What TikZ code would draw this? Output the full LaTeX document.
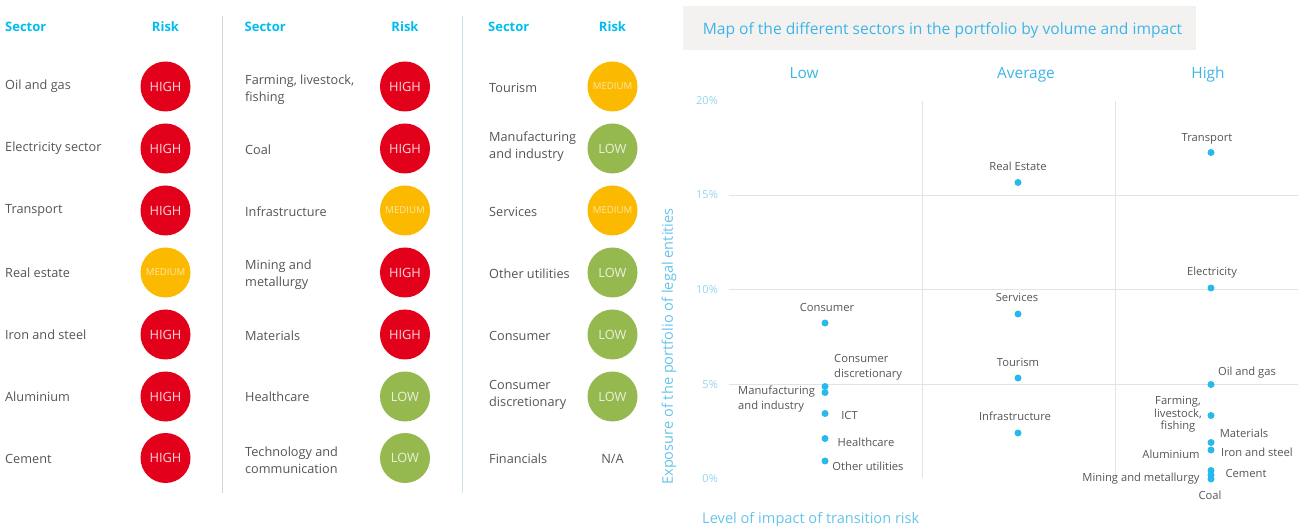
\documentclass[tikz,border=0pt]{standalone}
\usepackage{fontspec}
\setmainfont{Open Sans}
\definecolor{hdr}{HTML}{00BDEE}
\definecolor{ttl}{HTML}{3DB5E6}
\definecolor{axc}{HTML}{66C4EA}
\definecolor{tick}{HTML}{93D5EF}
\definecolor{txt}{HTML}{555555}
\definecolor{rhigh}{HTML}{E2001A}
\definecolor{rmed}{HTML}{FBB900}
\definecolor{rlow}{HTML}{95B84F}
\definecolor{gridc}{HTML}{E3E3E3}
\definecolor{dotc}{HTML}{27B8EC}
\definecolor{boxc}{HTML}{F3F2F1}
\definecolor{sepa}{HTML}{D0D6D8}
\definecolor{sepb}{HTML}{CFE3EA}
\newcommand\dn[1]{\raisebox{-1pt}{#1}}
\tikzset{
  x=1pt,y=-1pt,
  head/.style={font=\fontsize{13}{14}\selectfont\bfseries,text=hdr,inner sep=0pt,yshift=-0.8pt},
  sector/.style={anchor=west,align=left,font=\fontsize{12.7}{17}\selectfont,text=txt,inner sep=0pt,yshift=-1pt},
  badge/.style={circle,minimum size=50pt,inner sep=0pt,text=white},
  high/.style={badge,fill=rhigh,font=\fontsize{12.8}{14}\selectfont,text=white!85!rhigh},
  medium/.style={badge,fill=rmed,font=\fontsize{9.6}{11}\selectfont,text=white!65!rmed},
  low/.style={badge,fill=rlow,font=\fontsize{12.8}{14}\selectfont,text=white!80!rlow},
  gridline/.style={draw=gridc,line width=0.9pt},
  sep/.style={line width=1pt},
  dot/.style={circle,fill=dotc,minimum size=7pt,inner sep=0pt},
  lab/.style={align=center,font=\fontsize{11.2}{15}\selectfont,text=txt,inner sep=0pt,yshift=-0.8pt},
  tickl/.style={font=\fontsize{11}{13}\selectfont,text=tick,inner sep=0pt,yshift=-0.8pt},
  band/.style={anchor=base,font=\fontsize{15.4}{17}\selectfont,text=ttl,inner sep=0pt},
  axlab/.style={font=\fontsize{14.6}{16}\selectfont,text=axc,inner sep=0pt},
}
\begin{document}
\begin{tikzpicture}
\useasboundingbox (0,0) rectangle (1298,526);
% separators
\coordinate (s1t) at (222.5,16); \coordinate (s1b) at (222.5,493);
\coordinate (s2t) at (462.5,16); \coordinate (s2b) at (462.5,493);
\draw[sep,draw=sepa] (s1t) -- (s1b);
\draw[sep,draw=sepb] (s2t) -- (s2b);
% column 1
\node[head,anchor=west] (h1) at (5,26) {Sector};
\node[head] (r1) at (165.5,26) {Risk};
\node[sector] (a1) at (5,85) {Oil and gas};
\node[sector] (a2) at (5,147) {Electricity sector};
\node[sector] (a3) at (5,209) {Transport};
\node[sector] (a4) at (5,272) {Real estate};
\node[sector] (a5) at (5,334) {Iron and steel};
\node[sector] (a6) at (5,396) {Aluminium};
\node[sector] (a7) at (5,458) {Cement};
\node[high] (ra1) at (165.5,86.5) {\dn{HIGH}};
\node[high] (ra2) at (165.5,148.5) {\dn{HIGH}};
\node[high] (ra3) at (165.5,210.5) {\dn{HIGH}};
\node[medium] (ra4) at (165.5,272.5) {\dn{MEDIUM}};
\node[high] (ra5) at (165.5,334.5) {\dn{HIGH}};
\node[high] (ra6) at (165.5,396.5) {\dn{HIGH}};
\node[high] (ra7) at (165.5,458) {\dn{HIGH}};
% column 2
\node[head,anchor=west] (h2) at (244.5,26) {Sector};
\node[head] (r2) at (405,26) {Risk};
\node[sector] (b1) at (245,88.5) {Farming, livestock,\\fishing};
\node[sector] (b2) at (245,149) {Coal};
\node[sector] (b3) at (245,211) {Infrastructure};
\node[sector] (b4) at (245,273.5) {Mining and\\metallurgy};
\node[sector] (b5) at (245,335) {Materials};
\node[sector] (b6) at (245,396) {Healthcare};
\node[sector] (b7) at (245,459.5) {Technology and\\communication};
\node[high] (rb1) at (405,86.5) {\dn{HIGH}};
\node[high] (rb2) at (405,148.5) {\dn{HIGH}};
\node[medium] (rb3) at (405,210.5) {\dn{MEDIUM}};
\node[high] (rb4) at (405,272.5) {\dn{HIGH}};
\node[high] (rb5) at (405,334.5) {\dn{HIGH}};
\node[low] (rb6) at (405,396.5) {\dn{LOW}};
\node[low] (rb7) at (405,458) {\dn{LOW}};
% column 3
\node[head,anchor=west] (h3) at (488,26) {Sector};
\node[head] (r3) at (612.5,26) {Risk};
\node[sector] (c1) at (489,87) {Tourism};
\node[sector] (c2) at (489,145.5) {Manufacturing\\and industry};
\node[sector] (c3) at (489,211) {Services};
\node[sector] (c4) at (489,273) {Other utilities};
\node[sector] (c5) at (489,335) {Consumer};
\node[sector] (c6) at (489,393.5) {Consumer\\discretionary};
\node[sector] (c7) at (489,458) {Financials};
\node[medium] (rc1) at (612.5,86.5) {\dn{MEDIUM}};
\node[low] (rc2) at (612.5,148.5) {\dn{LOW}};
\node[medium] (rc3) at (612.5,210.5) {\dn{MEDIUM}};
\node[low] (rc4) at (612.5,272.5) {\dn{LOW}};
\node[low] (rc5) at (612.5,334.5) {\dn{LOW}};
\node[low] (rc6) at (612.5,396.5) {\dn{LOW}};
\node[lab,font=\fontsize{12.8}{15}\selectfont] (rc7) at (612.5,458) {N/A};
% map title
\node[fill=boxc,minimum width=513pt,minimum height=44pt,inner sep=0pt] (tbox) at (939.5,28) {};
\node[inner sep=0pt,font=\fontsize{15.6}{18}\selectfont,text=ttl] (ttext) at (942.5,30) {Map of the different sectors in the portfolio by volume and impact};
\node[band] (low) at (804,79) {Low};
\node[band] (avg) at (1026,79) {Average};
\node[band] (hig) at (1208,79) {High};
% grid
\coordinate (g1l) at (729,195); \coordinate (g1r) at (1298,195);
\coordinate (g2l) at (729,289.5); \coordinate (g2r) at (1298,289.5);
\coordinate (g3l) at (729,384); \coordinate (g3r) at (1298,384);
\coordinate (v1t) at (922,101); \coordinate (v1b) at (922,478);
\coordinate (v2t) at (1115,101); \coordinate (v2b) at (1115,478);
\draw[gridline] (g1l) -- (g1r);
\draw[gridline] (g2l) -- (g2r);
\draw[gridline] (g3l) -- (g3r);
\draw[gridline] (v1t) -- (v1b);
\draw[gridline] (v2t) -- (v2b);
% ticks
\node[tickl,anchor=east] (t20) at (718,100) {20\%};
\node[tickl,anchor=east] (t15) at (718,194) {15\%};
\node[tickl,anchor=east] (t10) at (718,288.5) {10\%};
\node[tickl,anchor=east] (t5) at (718,384) {5\%};
\node[tickl,anchor=east] (t0) at (718,477.5) {0\%};
\node[axlab,rotate=90] (yaxis) at (669,346.5) {Exposure of the portfolio of legal entities};
\node[axlab,anchor=base west] (xaxis) at (702,523) {Level of impact of transition risk};
% points
\node[dot] (p1) at (1018,182.5) {};
\node[dot] (p2) at (1211,152.5) {};
\node[dot] (p3) at (1211,288) {};
\node[dot] (p4) at (1018,314) {};
\node[dot] (p5) at (1018,378) {};
\node[dot] (p6) at (1018,433) {};
\node[dot] (p7) at (825,323) {};
\node[dot] (p8) at (825,386.5) {};
\node[dot] (p9) at (825,392.5) {};
\node[dot] (p10) at (825,413.5) {};
\node[dot] (p11) at (825,438.5) {};
\node[dot] (p12) at (825,461) {};
\node[dot] (p13) at (1211,384.5) {};
\node[dot] (p14) at (1211,415.5) {};
\node[dot] (p15) at (1211,442.5) {};
\node[dot] (p16) at (1211,450) {};
\node[dot] (p17) at (1211,470.5) {};
\node[dot] (p18) at (1211,475) {};
\node[dot] (p19) at (1211,479) {};
% point labels
\node[lab] at (1018,165.5) (l1) {Real Estate};
\node[lab] at (1207,138) (l2) {Transport};
\node[lab] at (1212,272) (l3) {Electricity};
\node[lab] at (1017,296.5) (l4) {Services};
\node[lab] at (1018,361.5) (l5) {Tourism};
\node[lab] at (1015,415.5) (l6) {Infrastructure};
\node[lab] at (827,306.5) (l7) {Consumer};
\node[lab,anchor=west,align=left] at (834,366.5) (l8) {Consumer\\discretionary};
\node[lab,anchor=west,align=left] at (738,398.5) (l9) {Manufacturing\\and industry};
\node[lab] at (849.5,414.5) (l10) {ICT};
\node[lab] at (866,441.5) (l11) {Healthcare};
\node[lab] at (868,465.5) (l12) {Other utilities};
\node[lab] at (1247,371.5) (l13) {Oil and gas};
\node[lab,font=\fontsize{11.2}{12.5}\selectfont] at (1178,413.5) (l14) {Farming,\\livestock,\\fishing};
\node[lab] at (1244,432.5) (l15) {Materials};
\node[lab] at (1257,451.5) (l16) {Iron and steel};
\node[lab] at (1171,453.5) (l17) {Aluminium};
\node[lab] at (1246,472.5) (l18) {Cement};
\node[lab] at (1141,478) (l19) {Mining and metallurgy};
\node[lab] at (1210,494.5) (l20) {Coal};
\end{tikzpicture}
\end{document}
